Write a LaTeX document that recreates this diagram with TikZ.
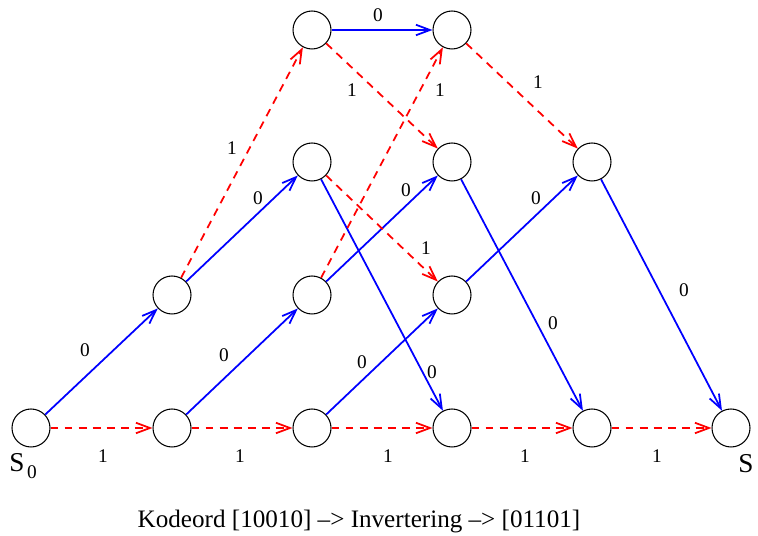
\documentclass[tikz,border=0pt]{standalone}
\usepackage{fontspec}
\setmainfont{Liberation Serif}
\usetikzlibrary{arrows.meta}
\definecolor{zeroblue}{RGB}{0, 0, 255}
\definecolor{onered}{RGB}{255, 0, 0}

\begin{document}
\begin{tikzpicture}[x=0.02cm, y=-0.02cm,
  state/.style={circle, draw=black, line width=0.6pt, minimum size=0.76cm, inner sep=0pt},
  zero/.style={draw=zeroblue, line width=1pt, -{Straight Barb[length=8pt, width=6pt]}},
  one/.style={draw=onered, line width=1pt, dash pattern=on 4.5pt off 3.5pt, -{Straight Barb[length=8pt, width=6pt]}},
  lbl/.style={font=\fontsize{11}{13}\selectfont},
  big/.style={font=\fontsize{14.3}{17}\selectfont}]
  \useasboundingbox (0,0) rectangle (758,536);

  % States: bottom row (start, four inner, end)
  \node[state] (s0) at (31, 428) {};
  \foreach \i/\x in {1/172, 2/312, 3/452, 4/592}
    \node[state] (b\i) at (\x, 428) {};
  \node[state] (s5) at (731, 428) {};

  % Middle rows and top row
  \foreach \i/\x in {1/172, 2/312, 3/452}
    \node[state] (m\i) at (\x, 295) {};
  \foreach \i/\x in {2/312, 3/452, 4/592}
    \node[state] (u\i) at (\x, 162) {};
  \foreach \i/\x in {2/312, 3/452}
    \node[state] (t\i) at (\x, 30) {};

  % Start and end names
  \node[big, font=\fontsize{15.5}{18}\selectfont] (s0name) at (17, 463) {S};
  \node[lbl] (s0sub) at (32, 472) {0};
  \node[big, font=\fontsize{15.5}{18}\selectfont] (s5name) at (746, 464) {S};

  % Input 0 transitions (blue)
  \foreach \a/\b in {s0/m1, m1/u2, t2/t3, b1/m2, m2/u3, b2/m3, m3/u4, u2/b3, u3/b4, u4/s5}
    \draw[zero] (\a) -- (\b);

  % Input 1 transitions (red, dashed)
  \foreach \a/\b in {s0/b1, b1/b2, b2/b3, b3/b4, b4/s5, m1/t2, t2/u3, m2/t3, t3/u4, u2/m3}
    \draw[one] (\a) -- (\b);

  % Labels on the 0 branches
  \foreach \n/\x/\y in {1/85/350, 2/258/198, 3/378/15, 4/224/355, 5/406/190, 6/362/362, 7/536/198, 8/432/372, 9/553/323, 10/684/290}
    \node[lbl] (zl\n) at (\x, \y) {0};

  % Labels on the 1 branches
  \foreach \n/\x/\y in {1/103/456, 2/240/456, 3/388/456, 4/525/456, 5/657/456, 6/232/148, 7/352/90, 8/440/90, 9/538/82, 10/426/248}
    \node[lbl] (ol\n) at (\x, \y) {1};

  % Caption
  \node[big] (caption) at (359, 521) {Kodeord [10010] --> Invertering --> [01101]};
\end{tikzpicture}
\end{document}
